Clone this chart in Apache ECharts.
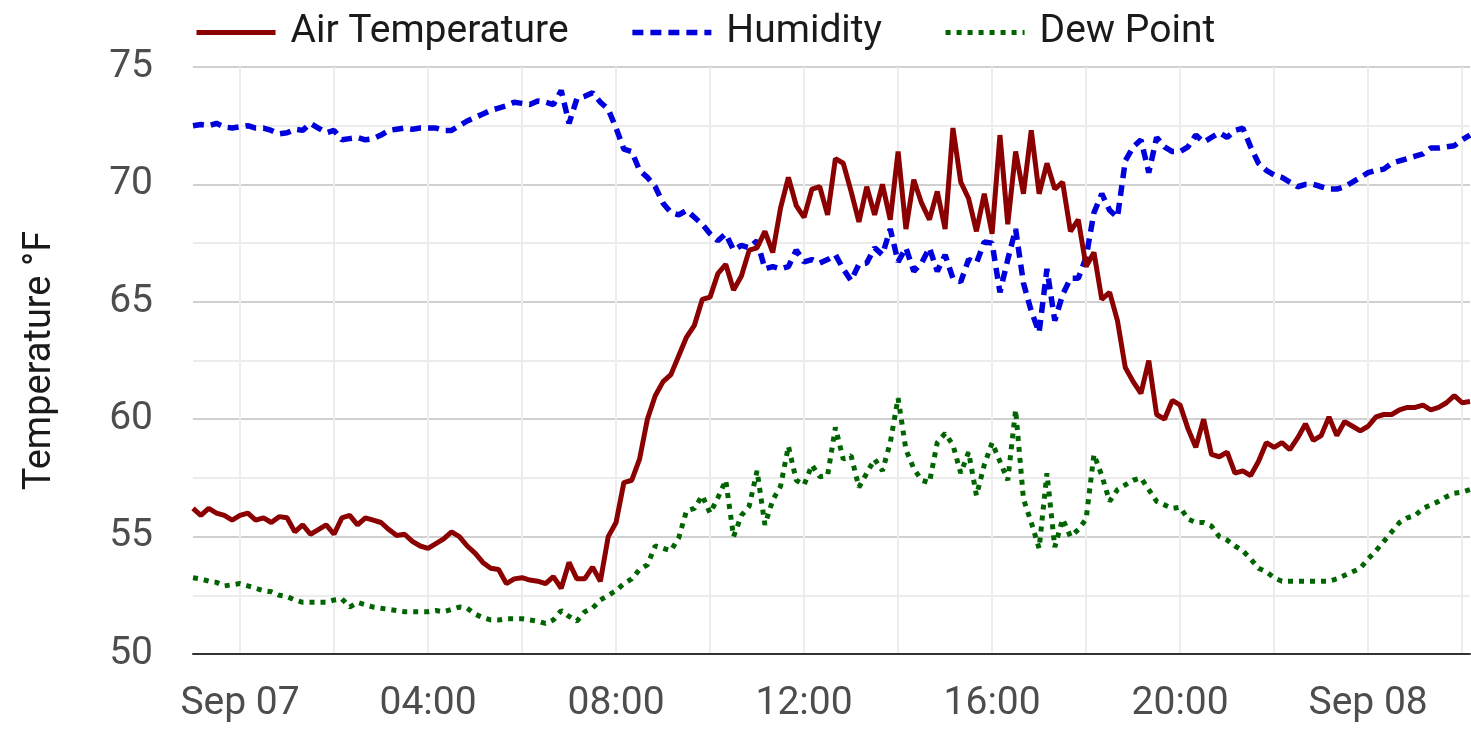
<!DOCTYPE html>
<html>
<head>
<meta charset="utf-8">
<script src="https://cdn.jsdelivr.net/npm/echarts@6/dist/echarts.min.js"></script>
<style>
  html, body { margin: 0; padding: 0; background: #fff; }
  #chart { width: 1471px; height: 751px; }
</style>
</head>
<body>
<div id="chart"></div>
<script>
// readings every 10 minutes, starting Sep 06 23:00
const startDay = 6;
const startMinute = 23 * 60;
const stepMinutes = 10;

const airTemperature = [
  56.2, 55.9, 56.2, 56.0, 55.9, 55.7,
  55.9, 56.0, 55.7, 55.8, 55.6, 55.85,
  55.8, 55.2, 55.5, 55.1, 55.3, 55.5,
  55.1, 55.8, 55.9, 55.5, 55.8, 55.7,
  55.6, 55.3, 55.05, 55.1, 54.8, 54.6,
  54.5, 54.7, 54.9, 55.2, 55.0, 54.6,
  54.3, 53.9, 53.65, 53.6, 53.0, 53.2,
  53.25, 53.15, 53.1, 53.0, 53.3, 52.8,
  53.9, 53.2, 53.2, 53.7, 53.1, 55.0,
  55.6, 57.3, 57.4, 58.3, 60.0, 61.0,
  61.6, 61.9, 62.7, 63.5, 64.0, 65.1,
  65.2, 66.2, 66.6, 65.5, 66.1, 67.2,
  67.3, 68.0, 67.1, 69.0, 70.3, 69.1,
  68.6, 69.8, 69.9, 68.7, 71.1, 70.9,
  69.7, 68.4, 69.9, 68.7, 70.0, 68.5,
  71.4, 68.1, 70.2, 69.2, 68.5, 69.7,
  68.1, 72.4, 70.1, 69.4, 68.0, 69.6,
  67.9, 72.1, 68.3, 71.4, 69.6, 72.3,
  69.6, 70.9, 69.8, 70.1, 68.0, 68.5,
  66.5, 67.1, 65.1, 65.4, 64.2, 62.2,
  61.6, 61.1, 62.5, 60.2, 60.0, 60.8,
  60.6, 59.6, 58.8, 60.0, 58.5, 58.4,
  58.6, 57.7, 57.8, 57.6, 58.2, 59.0,
  58.8, 59.0, 58.7, 59.2, 59.8, 59.1,
  59.3, 60.1, 59.3, 59.9, 59.7, 59.5,
  59.7, 60.1, 60.2, 60.2, 60.4, 60.5,
  60.5, 60.6, 60.4, 60.5, 60.7, 61.0,
  60.7, 60.75
];

const humidity = [
  72.5, 72.55, 72.5, 72.6, 72.45, 72.4,
  72.45, 72.5, 72.4, 72.4, 72.3, 72.15,
  72.2, 72.35, 72.3, 72.6, 72.4, 72.2,
  72.3, 71.9, 71.95, 72.0, 71.9, 71.95,
  72.1, 72.3, 72.35, 72.4, 72.35, 72.4,
  72.4, 72.4, 72.3, 72.3, 72.5, 72.7,
  72.85, 73.0, 73.15, 73.25, 73.35, 73.5,
  73.45, 73.4, 73.55, 73.5, 73.4, 74.0,
  72.6, 73.65, 73.75, 73.9, 73.5, 73.2,
  72.4, 71.5, 71.4, 70.6, 70.3, 69.9,
  69.2, 68.8, 68.7, 68.9, 68.6, 68.3,
  67.9, 67.6, 67.9, 67.2, 67.4, 67.3,
  67.6, 66.4, 66.5, 66.4, 66.5, 67.2,
  66.7, 66.8, 66.65, 66.8, 67.0, 66.4,
  65.9, 66.6, 66.65, 67.3, 67.0, 68.1,
  66.7, 67.3, 66.3, 66.65, 67.3, 66.3,
  67.0, 66.0, 65.85, 66.8, 66.65, 67.55,
  67.5, 65.4, 66.8, 68.1, 65.8, 64.6,
  63.7, 66.4, 64.2, 65.3, 66.0, 66.0,
  66.9, 68.8, 69.6, 68.9, 68.6, 71.0,
  71.6, 71.9, 70.5, 72.0, 71.6, 71.4,
  71.4, 71.6, 72.1, 71.8, 72.0, 72.2,
  72.0, 72.3, 72.4, 71.6, 70.9, 70.6,
  70.4, 70.3, 70.1, 69.9, 70.0, 70.0,
  69.9, 69.8, 69.8, 69.9, 70.1, 70.3,
  70.5, 70.6, 70.65, 70.9, 71.0, 71.1,
  71.2, 71.3, 71.55, 71.55, 71.6, 71.65,
  71.9, 72.1
];

const dewPoint = [
  53.25, 53.2, 53.1, 53.05, 52.9, 52.95,
  53.0, 52.9, 52.8, 52.7, 52.65, 52.5,
  52.45, 52.3, 52.2, 52.2, 52.2, 52.2,
  52.3, 52.35, 52.0, 52.2, 52.1, 52.0,
  51.95, 51.9, 51.85, 51.8, 51.8, 51.8,
  51.8, 51.85, 51.8, 51.9, 52.0, 51.95,
  51.7, 51.55, 51.45, 51.45, 51.5, 51.5,
  51.5, 51.45, 51.4, 51.3, 51.45, 51.85,
  51.6, 51.4, 51.8, 51.95, 52.3, 52.5,
  52.7, 53.0, 53.2, 53.6, 53.8, 54.6,
  54.5, 54.4, 54.95, 56.1, 56.2, 56.75,
  56.0, 56.65, 57.4, 55.0, 55.9, 56.3,
  57.8, 55.5, 56.55, 57.15, 58.85, 57.4,
  57.2, 58.05, 57.55, 57.6, 59.65, 58.3,
  58.45, 57.1, 57.7, 58.3, 57.8, 59.0,
  60.9, 58.7, 57.9, 57.4, 57.3, 59.0,
  59.4, 58.9, 57.7, 58.6, 56.75, 58.05,
  59.0, 58.2, 57.4, 60.4, 56.6, 55.6,
  54.5, 57.7, 54.55, 55.75, 55.0, 55.3,
  55.75, 58.5, 57.6, 56.5, 57.0, 57.2,
  57.4, 57.5, 57.0, 56.5, 56.35, 56.2,
  56.25, 55.75, 55.6, 55.6, 55.45, 55.0,
  54.85, 54.6, 54.4, 54.05, 53.65, 53.5,
  53.25, 53.1, 53.1, 53.1, 53.1, 53.1,
  53.1, 53.1, 53.2, 53.35, 53.5, 53.65,
  54.05, 54.4, 54.8, 55.2, 55.6, 55.8,
  55.9, 56.2, 56.35, 56.5, 56.7, 56.85,
  56.9, 57.0
];

const seriesNames = ['Air Temperature', 'Humidity', 'Dew Point'];
const yTickLabels = [50, 55, 60, 65, 70, 75];

const pad = n => String(n).padStart(2, '0');
const times = airTemperature.map((_, i) => {
  const m = startMinute + i * stepMinutes;
  const day = startDay + Math.floor(m / 1440);
  const hh = Math.floor((m % 1440) / 60);
  const mm = m % 60;
  return 'Sep ' + pad(day) + ' ' + pad(hh) + ':' + pad(mm);
});

const hourOf = v => parseInt(v.slice(7, 9), 10);
const onHour = v => v.slice(10) === '00';

const chart = echarts.init(document.getElementById('chart'), null, { renderer: 'canvas' });

const font = 'Roboto';

chart.setOption({
  animation: false,
  textStyle: { fontFamily: font },
  grid: { left: 193, right: 1, top: 67, bottom: 97, containLabel: false },
  legend: {
    data: seriesNames,
    left: 189,
    top: 8,
    itemWidth: 79,
    itemHeight: 10,
    itemGap: 61,
    itemStyle: { opacity: 0 },
    lineStyle: { width: 'inherit' },
    textStyle: { fontSize: 39, color: '#1a1a1a', fontFamily: font, padding: [0, 0, 0, 10] }
  },
  xAxis: {
    type: 'category',
    data: times,
    boundaryGap: false,
    axisLine: { lineStyle: { color: '#333', width: 2 } },
    axisTick: { show: false },
    axisLabel: {
      fontSize: 39,
      color: '#4d4d4d',
      margin: 31,
      interval: (i, v) => onHour(v) && hourOf(v) % 4 === 0,
      formatter: v => hourOf(v) === 0 ? v.slice(0, 6) : v.slice(7)
    },
    splitLine: {
      show: true,
      interval: (i, v) => onHour(v) && hourOf(v) % 2 === 0,
      lineStyle: { color: '#ededed', width: 2 }
    }
  },
  yAxis: {
    type: 'value',
    min: 50,
    max: 75,
    interval: 2.5,
    name: 'Temperature °F',
    nameLocation: 'middle',
    nameGap: 134,
    nameTextStyle: { fontSize: 38, color: '#1a1a1a', fontFamily: font },
    axisLine: { show: false },
    axisTick: { show: false },
    axisLabel: {
      fontSize: 39,
      color: '#4d4d4d',
      margin: 40,
      formatter: v => yTickLabels.includes(v) ? String(v) : ''
    },
    splitLine: { lineStyle: { color: ['#d0d0d0', '#ececec'], width: 2 } }
  },
  series: [
    {
      name: seriesNames[0],
      type: 'line',
      data: airTemperature,
      symbol: 'none',
      lineStyle: { color: '#8b0000', width: 5 },
      itemStyle: { color: '#8b0000' },
      z: 3
    },
    {
      name: seriesNames[1],
      type: 'line',
      data: humidity,
      symbol: 'none',
      lineStyle: { color: '#0000dd', width: 5.5, type: [11, 7] },
      itemStyle: { color: '#0000dd' },
      z: 2
    },
    {
      name: seriesNames[2],
      type: 'line',
      data: dewPoint,
      symbol: 'none',
      lineStyle: { color: '#006400', width: 5, type: [5, 6] },
      itemStyle: { color: '#006400' },
      z: 1
    }
  ]
});

window.addEventListener('resize', () => chart.resize());
</script>
</body>
</html>
